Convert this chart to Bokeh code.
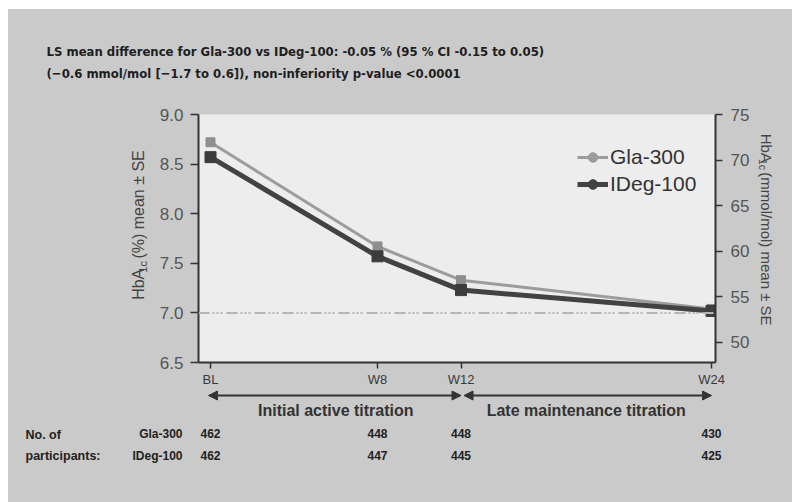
import math
from bokeh.plotting import figure
from bokeh.layouts import column, row
from bokeh.models import (Range1d, LinearAxis, FixedTicker, NumeralTickFormatter, Span,
                          Arrow, NormalHead, Legend, LegendItem, ColumnDataSource)
from bokeh.embed import file_html
from bokeh.resources import INLINE
from bokeh.core.properties import value

# ---------------- data ----------------
weeks = [0, 8, 12, 24]
visit_labels = ["BL", "W8", "W12", "W24"]
gla_300 = [8.72, 7.67, 7.33, 7.04]
ideg_100 = [8.57, 7.57, 7.23, 7.02]
n_gla_300 = [462, 448, 448, 430]
n_ideg_100 = [462, 447, 445, 425]
y_ticks_pct = [6.5, 7.0, 7.5, 8.0, 8.5, 9.0]
y_ticks_mmol = [50, 55, 60, 65, 70, 75]
target_pct = 7.0
series_names = ["Gla-300", "IDeg-100"]
title_lines = [
    "LS mean difference for Gla-300 vs IDeg-100:  -0.05 % (95 % CI -0.15 to 0.05)",
    "(\u22120.6 mmol/mol [\u22121.7 to 0.6]),  non-inferiority p-value <0.0001",
]
phase_labels = ["Initial active titration", "Late maintenance titration"]
table_caption = ["No. of", "participants:"]

# ---------------- page geometry (pixels) ----------------
X0, X1 = -0.575, 24.19          # week range of the plot frame
Y0, Y1 = 6.5, 9.0               # HbA1c % range
M0, M1 = 47.8, 75.05            # mmol/mol range
OFF_X, OFF_Y = 8, 9             # white page margin
FL, FR, FT, FB = 198, 715, 114, 362   # plot frame on the page
ROW_TOP, ROW_BOT = 105, 390
LEFT_W, RIGHT_W = 140, 40
TOTAL_W = 792 - OFF_X
BG = "#cacaca"

SANS = "Liberation Sans"
COND = "DejaVu Sans Condensed"


def week_at(px):
    return X0 + (px - FL) / (FR - FL) * (X1 - X0)


def blank(width, height, xr, yr):
    f = figure(width=width, height=height, x_range=xr, y_range=yr,
               output_backend="svg", toolbar_location=None,
               x_axis_location=None, y_axis_location=None,
               min_border=0, min_border_left=0, min_border_right=0,
               min_border_top=0, min_border_bottom=0)
    f.grid.visible = False
    f.outline_line_color = None
    f.background_fill_color = BG
    f.border_fill_color = BG
    f.styles = {"background-color": BG}
    return f


def txt(f, xs, ys, texts, size, color="#222222", bold=False, align="left", angle=0.0, font=SANS):
    f.text(x=xs, y=ys, text=texts, angle=angle, text_font=value(font),
           text_font_size=f"{size}px", text_color=color,
           text_font_style="bold" if bold else "normal",
           text_align=align, text_baseline="middle")


# ---------------- title strip ----------------
title_fig = blank(TOTAL_W, ROW_TOP - OFF_Y, Range1d(OFF_X, 792), Range1d(ROW_TOP, OFF_Y))
txt(title_fig, [46, 46], [51, 73], title_lines, 13, color="#1e1e1e", bold=True, font=COND)

# ---------------- main plot ----------------
main_w = TOTAL_W - LEFT_W - RIGHT_W
main_x0 = OFF_X + LEFT_W
p = figure(width=main_w, height=ROW_BOT - ROW_TOP, x_range=Range1d(X0, X1), y_range=Range1d(Y0, Y1),
           output_backend="svg", toolbar_location=None,
           min_border_left=FL - main_x0, min_border_right=main_x0 + main_w - FR,
           min_border_top=FT - ROW_TOP, min_border_bottom=ROW_BOT - FB)
p.background_fill_color = "#ededed"
p.border_fill_color = BG
p.styles = {"background-color": BG}
p.outline_line_color = None
p.xgrid.visible = False
p.ygrid.visible = False

ya = p.yaxis[0]
ya.ticker = FixedTicker(ticks=y_ticks_pct)
ya.formatter = NumeralTickFormatter(format="0.0")
ya.axis_line_color = "#333333"
ya.axis_line_width = 2
ya.major_tick_line_color = "#333333"
ya.major_tick_line_width = 1.5
ya.major_tick_out = 8
ya.major_tick_in = 0
ya.minor_tick_line_color = None
ya.major_label_standoff = 7
ya.major_label_text_font = SANS
ya.major_label_text_font_size = "17px"
ya.major_label_text_color = "#555555"

p.extra_y_ranges = {"mmol": Range1d(M0, M1)}
ra = LinearAxis(y_range_name="mmol", ticker=FixedTicker(ticks=y_ticks_mmol))
ra.axis_line_color = "#333333"
ra.axis_line_width = 2
ra.major_tick_line_color = "#333333"
ra.major_tick_line_width = 1.5
ra.major_tick_out = 7
ra.major_tick_in = 0
ra.minor_tick_line_color = None
ra.major_label_standoff = 8
ra.major_label_text_font = SANS
ra.major_label_text_font_size = "17px"
ra.major_label_text_color = "#555555"
p.add_layout(ra, "right")

xa = p.xaxis[0]
xa.ticker = FixedTicker(ticks=weeks)
xa.major_label_overrides = {w: l for w, l in zip(weeks, visit_labels)}
xa.axis_line_color = "#333333"
xa.axis_line_width = 2
xa.major_tick_line_color = "#333333"
xa.major_tick_line_width = 1.5
xa.major_tick_out = 6
xa.major_tick_in = 0
xa.minor_tick_line_color = None
xa.major_label_standoff = 3
xa.major_label_text_font = SANS
xa.major_label_text_font_size = "13px"
xa.major_label_text_color = "#3a3a3a"

p.add_layout(Span(location=target_pct, dimension="width", line_color="#b5b5b5",
                  line_width=2, line_dash="11 3 2 2 2 2 2 4"))

src = ColumnDataSource(dict(week=weeks, gla=gla_300, ideg=ideg_100))
g_dot = p.scatter("week", "gla", source=src, marker="circle", size=8,
                  fill_color="#9c9c9c", line_color="#9c9c9c", visible=False)
i_dot = p.scatter("week", "ideg", source=src, marker="circle", size=10,
                  fill_color="#424242", line_color="#424242", visible=False)
g_line = p.line("week", "gla", source=src, line_color="#9c9c9c", line_width=3)
p.scatter("week", "gla", source=src, marker="square", size=9,
          fill_color="#8e8e8e", line_color="#8e8e8e")
i_line = p.line("week", "ideg", source=src, line_color="#424242", line_width=5)
p.scatter("week", "ideg", source=src, marker="square", size=11,
          fill_color="#3c3c3c", line_color="#3c3c3c")

legend = Legend(items=[LegendItem(label=value(series_names[0]), renderers=[g_line, g_dot]),
                       LegendItem(label=value(series_names[1]), renderers=[i_line, i_dot])],
                location=(379, 166), glyph_width=31, glyph_height=24, label_height=24,
                label_standoff=2, padding=0, spacing=3, margin=0,
                background_fill_alpha=0, border_line_color=None, inactive_fill_alpha=0,
                label_text_font=SANS, label_text_font_size="21px",
                label_text_color="#333333")
p.add_layout(legend)

# ---------------- left / right axis-title strips ----------------
left_fig = blank(LEFT_W, ROW_BOT - ROW_TOP, Range1d(OFF_X, OFF_X + LEFT_W), Range1d(ROW_BOT, ROW_TOP))
LS = 16
lx, ly = 138, 318
w1 = 1.945 * LS
w2 = 1.056 * LS * 0.7 + 0.278 * LS
txt(left_fig, [lx], [ly], ["HbA"], LS, color="#444444", angle=math.pi / 2)
txt(left_fig, [lx + 4], [ly - w1], ["1c"], LS * 0.7, color="#444444", angle=math.pi / 2)
txt(left_fig, [lx], [ly - w1 - w2], ["(%) mean \u00b1 SE"], LS, color="#444444", angle=math.pi / 2)

right_x0 = main_x0 + main_w
right_fig = blank(RIGHT_W, ROW_BOT - ROW_TOP, Range1d(right_x0, right_x0 + RIGHT_W), Range1d(ROW_BOT, ROW_TOP))
RS = 15
rx, ry = 766, 127
v1 = 1.945 * RS
v2 = 1.056 * RS * 0.7 + 0.278 * RS
txt(right_fig, [rx], [ry], ["HbA"], RS, color="#444444", angle=-math.pi / 2)
txt(right_fig, [rx - 4], [ry + v1], ["1c"], RS * 0.7, color="#444444", angle=-math.pi / 2)
txt(right_fig, [rx], [ry + v1 + v2], ["(mmol/mol) mean \u00b1 SE"], RS, color="#444444", angle=-math.pi / 2)

# ---------------- bottom strip: phases and participants ----------------
bot = blank(TOTAL_W, 502 - ROW_BOT, Range1d(week_at(OFF_X), week_at(792)), Range1d(502, ROW_BOT))
pxw = (FR - FL) / (X1 - X0)
AY = 395
for a, b in [(weeks[0] - 2 / pxw, weeks[2]), (weeks[2] + 3 / pxw, weeks[3])]:
    bot.add_layout(Arrow(x_start=a, y_start=AY, x_end=b, y_end=AY,
                         start=NormalHead(size=9, fill_color="#333333", line_color="#333333"),
                         end=NormalHead(size=9, fill_color="#333333", line_color="#333333"),
                         line_color="#333333", line_width=2))
txt(bot, [(weeks[0] + weeks[2]) / 2, (weeks[2] + weeks[3]) / 2], [410, 410], phase_labels, 16,
    color="#333333", bold=True, align="center")
txt(bot, [week_at(25), week_at(25)], [434, 455], table_caption, 12.5, bold=True)
txt(bot, [week_at(182), week_at(182)], [433, 455], series_names, 12, bold=True, align="right")
txt(bot, weeks, [433] * len(weeks), [str(n) for n in n_gla_300], 12, bold=True, align="center")
txt(bot, weeks, [455] * len(weeks), [str(n) for n in n_ideg_100], 12, bold=True, align="center")

mid = row(left_fig, p, right_fig)
mid.styles = {"background-color": BG}
layout = column(title_fig, mid, bot)
layout.styles = {"background-color": BG}
layout.margin = (OFF_Y, 0, 0, OFF_X)

open("out.html", "w").write(file_html(layout, INLINE))
